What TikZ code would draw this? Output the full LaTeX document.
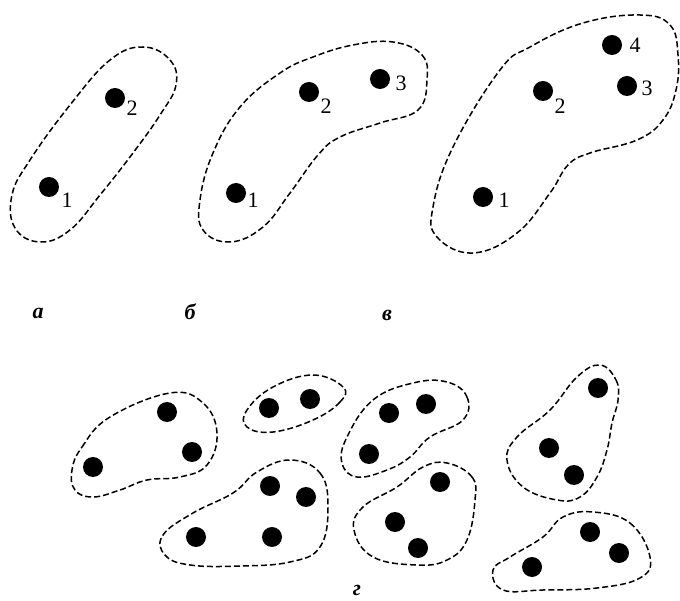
\documentclass[tikz,border=0pt]{standalone}
\usepackage{fontspec}
\setmainfont{Liberation Serif}
\begin{document}
\begin{tikzpicture}[x=1pt, y=-1pt,
  blob/.style={dash pattern=on 6pt off 3pt, line width=1.5pt},
  pt/.style={circle, fill, inner sep=0pt, minimum size=20pt},
  num/.style={inner sep=0pt, font=\fontsize{22}{22}\selectfont},
  letter/.style={inner sep=0pt, font=\fontsize{22}{22}\selectfont\bfseries\itshape}]
\useasboundingbox (0,0) rectangle (680,601);
% a
\draw[blob] plot[smooth cycle, tension=0.7] coordinates {(143,47) (170,60) (176,85) (160,115) (133,153) (100,195) (70,230) (40,242) (15,228) (12,195) (30,160) (70,105) (110,60)};
\node[pt] (a1) at (49,187) {};
\node[pt] (a2) at (115,98) {};
\node[num] (a1n) at (67,200) {1};
\node[num] (a2n) at (132,108) {2};
% b
\draw[blob] plot[smooth cycle, tension=0.7] coordinates {(393,42) (422,55) (427,80) (418,110) (380,123) (340,137) (318,155) (290,193) (263,227) (230,242) (203,230) (200,200) (213,153) (240,107) (280,73) (313,57) (353,45)};
\node[pt] (b1) at (236,193) {};
\node[pt] (b2) at (309,92) {};
\node[pt] (b3) at (380,79) {};
\node[num] (b1n) at (253,200) {1};
\node[num] (b2n) at (326,106) {2};
\node[num] (b3n) at (401,83) {3};
% v
\draw[blob] plot[smooth cycle, tension=0.7] coordinates {(640,15) (670,25) (678,55) (676,90) (663,120) (637,140) (590,153) (568,165) (550,193) (517,233) (473,253) (437,237) (433,207) (453,147) (500,70) (530,47) (583,23)};
\node[pt] (v1) at (483,197) {};
\node[pt] (v2) at (543,91) {};
\node[pt] (v3) at (627,86) {};
\node[pt] (v4) at (612,45) {};
\node[num] (v1n) at (504,200) {1};
\node[num] (v2n) at (560,106) {2};
\node[num] (v3n) at (647,88) {3};
\node[num] (v4n) at (635,45) {4};
\node[letter] (capa) at (38,313) {а};
\node[letter] (capb) at (190,312) {б};
\node[letter] (capv) at (387,315) {в};
% g
\draw[blob] plot[smooth cycle, tension=0.7] coordinates {(72,470) (82,447) (110,417) (170,393) (203,403) (217,433) (207,465) (180,477) (147,480) (120,490) (93,497) (75,490)};
\draw[blob] plot[smooth cycle, tension=0.7] coordinates {(343,387) (340,402) (313,420) (273,432) (247,427) (247,410) (273,387) (313,375)};
\draw[blob] plot[smooth cycle, tension=0.7] coordinates {(290,460) (320,473) (328,507) (320,547) (290,562) (240,566) (190,565) (165,555) (163,535) (193,513) (233,493) (257,472)};
\draw[blob] plot[smooth cycle, tension=0.7] coordinates {(447,382) (467,397) (463,420) (430,437) (410,457) (387,470) (357,477) (342,463) (347,437) (373,400) (413,383)};
\draw[blob] plot[smooth cycle, tension=0.7] coordinates {(447,463) (472,477) (475,500) (467,540) (447,560) (417,565) (373,557) (354,530) (363,507) (397,487) (423,467)};
\draw[blob] plot[smooth cycle, tension=0.7] coordinates {(600,365) (616,380) (618,400) (612,423) (607,450) (597,477) (580,497) (557,500) (523,487) (507,460) (517,437) (550,410) (577,377)};
\draw[blob] plot[smooth cycle, tension=0.7] coordinates {(593,512) (630,523) (650,557) (640,578) (597,588) (543,590) (503,590) (493,570) (510,557) (543,537) (563,517)};
\foreach \x/\y [count=\i] in {93/467, 167/412, 192/452, 269/408, 310/399,
  270/486, 306/497, 196/537, 272/537, 389/413, 426/404, 369/454,
  440/482, 395/522, 418/548, 598/388, 549/448, 574/475, 590/532, 619/553, 532/567}
{
  \node[pt] (g\i) at (\x,\y) {};
}
\node[letter] (capg) at (357,590) {г};
\end{tikzpicture}
\end{document}
